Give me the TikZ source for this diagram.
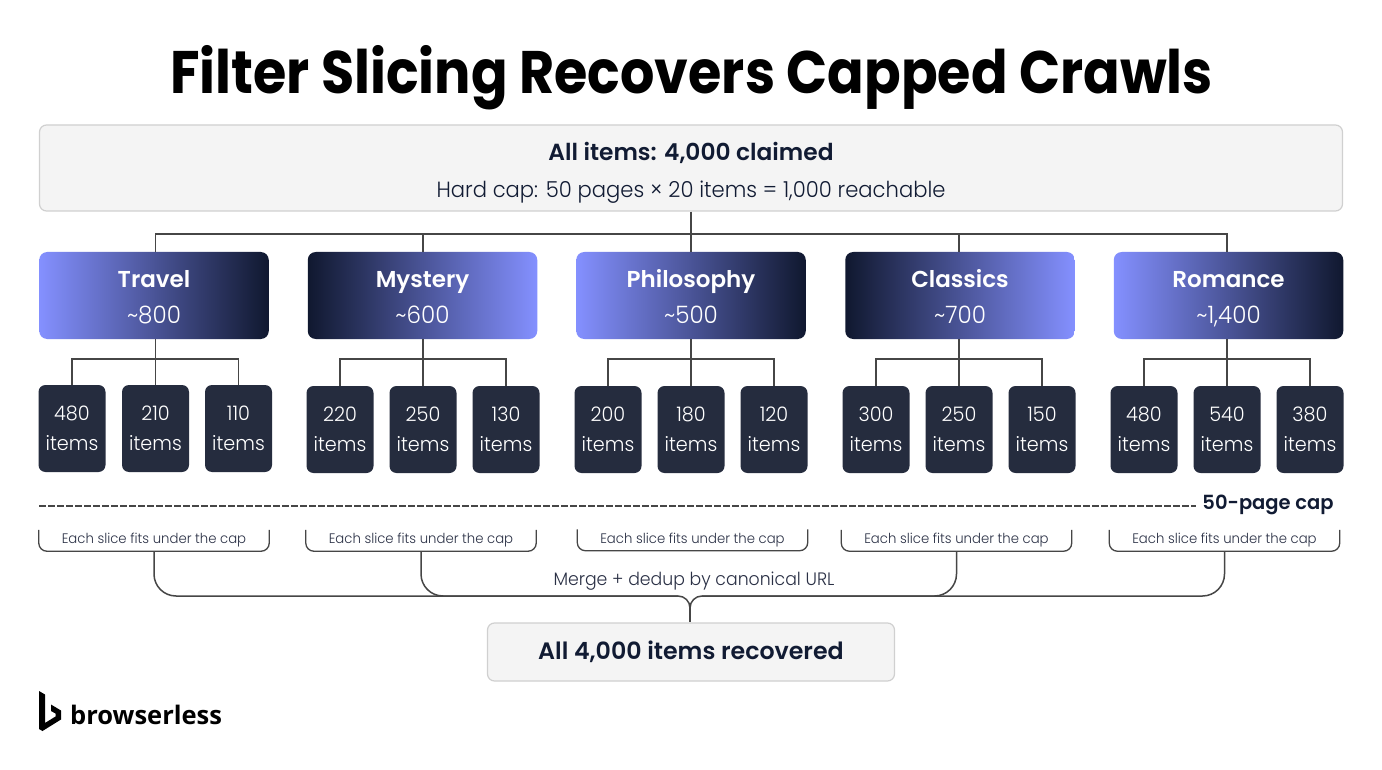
\documentclass[tikz,border=0pt]{standalone}
\usepackage{fontspec}
\setmainfont{Poppins}[UprightFont=* Light, BoldFont=* SemiBold, UprightFeatures={FakeStretch=0.96}]
\newfontfamily\ttlfont{Poppins}[UprightFont=* Bold, FakeStretch=0.9]
\definecolor{box_gray}{RGB}{244,244,244}
\definecolor{edge_gray}{RGB}{208,208,208}
\definecolor{line_gray}{RGB}{70,70,70}
\definecolor{ink_dark}{RGB}{17,27,51}
\definecolor{ink_soft}{RGB}{42,48,69}
\definecolor{cat_blue}{RGB}{132,144,255}
\definecolor{cat_navy}{RGB}{16,24,47}
\definecolor{chd_navy}{RGB}{37,44,62}
\newcommand{\cattxt}[2]{{\fontsize{23}{36}\selectfont\textbf{#1}}\rule{0pt}{26pt}\\\textasciitilde#2\vphantom{g}}

\begin{document}
\begin{tikzpicture}[x=1pt,y=-1pt]
    \tikzstyle{gbox}=[draw=edge_gray, line width=1.2pt, fill=box_gray, rounded corners=7pt, text=ink_dark, align=center]
    \tikzstyle{cat}=[rounded corners=8pt, minimum width=229.5pt, minimum height=87pt, text=white, align=center, font=\fontsize{24}{36}\selectfont]
    \tikzstyle{catr}=[style=cat, left color=cat_blue, right color=cat_navy]
    \tikzstyle{catl}=[style=cat, left color=cat_navy, right color=cat_blue]
    \tikzstyle{chd}=[fill=chd_navy, rounded corners=7pt, minimum width=67pt, minimum height=87pt, inner sep=0pt, text=white, align=center, font=\fontsize{20}{30}\selectfont]
    \tikzstyle{slc}=[minimum width=230pt, minimum height=21pt, inner sep=0pt, text=ink_soft, font=\fontsize{13.8}{16}\selectfont]
    \tikzstyle{brk}=[draw=line_gray, line width=1.3pt, rounded corners=8pt]
    \tikzstyle{mrg}=[draw=line_gray, line width=1.5pt, rounded corners=22pt]
    \tikzstyle{lnk}=[draw=line_gray, line width=1.5pt]

    \path[use as bounding box, fill=white] (0,0) rectangle (1382,770);

    \node[text=black, font=\fontsize{60}{64}\ttlfont] (title) at (691.5,78) {Filter Slicing Recovers Capped Crawls};

    \node[gbox, minimum width=1303pt, minimum height=86pt, font=\fontsize{22}{37}\selectfont] (top) at (691,168)
      {{\fontsize{23.3}{37}\selectfont\textbf{All items: 4,000 claimed}}\rule{0pt}{27pt}\\Hard cap: 50 pages × 20 items = 1,000 reachable};

    \node[catr] (travel) at (154,295.5)     {\cattxt{Travel}{800}};
    \node[catl] (mystery) at (422.5,295.5)  {\cattxt{Mystery}{600}};
    \node[catr] (philo) at (691,295.5)      {\cattxt{Philosophy}{500}};
    \node[catl] (classics) at (960,295.5)   {\cattxt{Classics}{700}};
    \node[catr] (romance) at (1228.5,295.5) {\cattxt{Romance}{1,400}};

    \node[chd] (t1) at (72,428.5)    {480\\items};
    \node[chd] (t2) at (155.5,428.5) {210\\items};
    \node[chd] (t3) at (238.5,428.5) {110\\items};
    \node[chd] (m1) at (340,429.5)   {220\\items};
    \node[chd] (m2) at (423,429.5)   {250\\items};
    \node[chd] (m3) at (506,429.5)   {130\\items};
    \node[chd] (p1) at (608,429.5)   {200\\items};
    \node[chd] (p2) at (691,429.5)   {180\\items};
    \node[chd] (p3) at (774,429.5)   {120\\items};
    \node[chd] (c1) at (876,429.5)   {300\\items};
    \node[chd] (c2) at (959,429.5)   {250\\items};
    \node[chd] (c3) at (1042,429.5)  {150\\items};
    \node[chd] (r1) at (1144,429.5)  {480\\items};
    \node[chd] (r2) at (1227,429.5)  {540\\items};
    \node[chd] (r3) at (1310,429.5)  {380\\items};

    \coordinate (bus) at (691,234);
    \coordinate (tbus) at (155.5,359);
    \coordinate (mbus) at (423,359);
    \coordinate (pbus) at (691,359);
    \coordinate (cbus) at (959,359);
    \coordinate (rbus) at (1227,359);

    \path[lnk]
     (top.south) edge (bus)
     (t2 |- travel.south) edge (t2.north)
     (m2 |- mystery.south) edge (m2.north)
     (philo.south) edge (p2.north)
     (c2 |- classics.south) edge (c2.north)
     (r2 |- romance.south) edge (r2.north)
     ;
    \draw[lnk] (bus) -| (t2 |- travel.north);
    \draw[lnk] (bus) -| (m2 |- mystery.north);
    \draw[lnk] (bus) -- (philo.north);
    \draw[lnk] (bus) -| (c2 |- classics.north);
    \draw[lnk] (bus) -| (r2 |- romance.north);
    \draw[lnk] (t1.north) |- (tbus) -| (t3.north);
    \draw[lnk] (m1.north) |- (mbus) -| (m3.north);
    \draw[lnk] (p1.north) |- (pbus) -| (p3.north);
    \draw[lnk] (c1.north) |- (cbus) -| (c3.north);
    \draw[lnk] (r1.north) |- (rbus) -| (r3.north);

    % cap line
    \coordinate (cap0) at (39,506);
    \node[text=ink_dark, font=\fontsize{19.5}{22}\selectfont\bfseries] (capl) at (1268,504.5) {50-page cap};
    \coordinate (cap1) at (1196,506);
    \draw[line_gray, line width=1.5pt, dash pattern=on 7pt off 2pt] (cap0) -- (cap1);

    \node[slc] (s1) at (154,540.5)  {Each slice fits under the cap};
    \node[slc] (s2) at (421,540.5)  {Each slice fits under the cap};
    \node[slc] (s3) at (692.5,540)  {Each slice fits under the cap};
    \node[slc] (s4) at (956.5,540.5) {Each slice fits under the cap};
    \node[slc] (s5) at (1224.5,540.5) {Each slice fits under the cap};
    \draw[brk] (s1.north west) -- (s1.south west) -- (s1.south east) -- (s1.north east);
    \draw[brk] (s2.north west) -- (s2.south west) -- (s2.south east) -- (s2.north east);
    \draw[brk] (s3.north west) -- (s3.south west) -- (s3.south east) -- (s3.north east);
    \draw[brk] (s4.north west) -- (s4.south west) -- (s4.south east) -- (s4.north east);
    \draw[brk] (s5.north west) -- (s5.south west) -- (s5.south east) -- (s5.north east);

    \node[text=ink_soft, font=\fontsize{18}{22}\selectfont] (mlbl) at (694,581) {Merge + dedup by canonical URL};
    \node[gbox, minimum width=407pt, minimum height=58pt, font=\fontsize{23.7}{30}\selectfont\bfseries] (res) at (691,652) {All 4,000 items recovered};

    \coordinate (ml) at (678,596);
    \coordinate (mr) at (702,596);
    \coordinate (mj) at (690,608);
    \draw[mrg] (s1.south) |- (ml);
    \draw[mrg] (s2.south) |- (ml);
    \draw[mrg] (s4.south) |- (mr);
    \draw[mrg] (s5.south) |- (mr);
    \draw[lnk] (ml) to[out=0,in=90] (mj);
    \draw[lnk] (mr) to[out=180,in=90] (mj);
    \draw[lnk] (mj) -- (mj |- res.north);

    % logo
    \fill[black] (39,691) -- (45,694.5) -- (45,723) -- (55.5,716.5) -- (55.5,713.5) -- (51,711) -- (51,704.5)
      -- (61,710.5) -- (61,719.5) -- (42.5,731) -- (39,729) -- cycle;
    \node[anchor=west, inner sep=0pt, text=black] (brand) at (70,714.5) {\fontspec{Open Sans}\fontsize{25.5}{30}\selectfont\bfseries browserless};
  \end{tikzpicture}
\end{document}
